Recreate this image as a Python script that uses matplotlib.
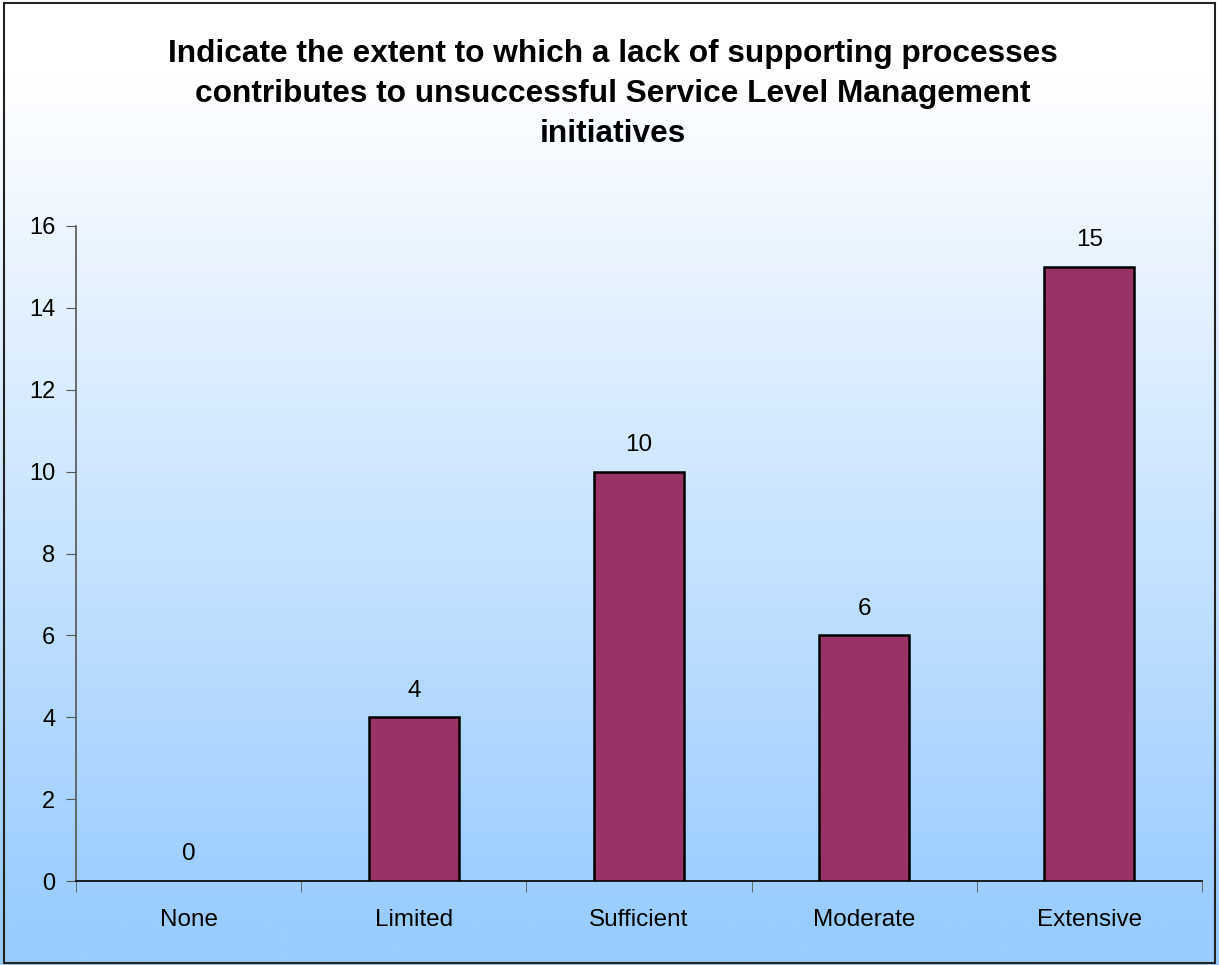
import matplotlib
matplotlib.use("Agg")
import matplotlib.pyplot as plt
import numpy as np
from matplotlib.patches import Rectangle

plt.rcParams['font.family'] = ['Liberation Sans', 'DejaVu Sans']

categories = ["None", "Limited", "Sufficient", "Moderate", "Extensive"]
values = [0, 4, 10, 6, 15]
title = "Indicate the extent to which a lack of supporting processes\ncontributes to unsuccessful Service Level Management\ninitiatives"

fig = plt.figure(figsize=(12.19, 9.65), dpi=100)

# gradient background
bg = fig.add_axes([0, 0, 1, 1], zorder=-10)
top = np.array([1.0, 1.0, 1.0])
bot = np.array([0x99, 0xCC, 0xFF]) / 255.0
t = np.linspace(0, 1, 512)
t = np.clip((t - 0.08) / 0.88, 0, 1)[:, None]
grad = (1 - t) * top + t * bot
bg.imshow(grad[:, None, :].repeat(2, axis=1), aspect='auto', extent=[0, 1, 0, 1], origin='upper')
bg.set_xlim(0, 1); bg.set_ylim(0, 1)
bg.axis('off')
bg.add_patch(Rectangle((0.003, 0.002), 0.994, 0.995, fill=False, edgecolor='#222222', lw=1.5, transform=bg.transAxes))

ax = fig.add_axes([76/1219, 84/965, (1202-76)/1219, (881-226)/965])
ax.patch.set_alpha(0)
x = np.arange(len(categories))
edges = ['black' if v > 0 else 'none' for v in values]
ax.bar(x, values, width=0.4, color='#993366', edgecolor=edges, linewidth=1.8, zorder=3)
for xi, v in zip(x, values):
    ax.text(xi, v + 0.38, str(v), ha='center', va='bottom', fontsize=17.5)

ax.set_xlim(-0.5, len(categories) - 0.5)
ax.set_ylim(0, 16)
ax.set_yticks(range(0, 17, 2))
ax.tick_params(axis='y', labelsize=17, direction='out', length=7, color='#555555', pad=8)
ax.set_xticks(x)
ax.set_xticklabels(categories, fontsize=17.5)
ax.tick_params(axis='x', length=0, pad=20)
ax.set_xticks(np.arange(-0.5, len(categories)), minor=True)
ax.tick_params(axis='x', which='minor', length=8, direction='out', color='#555555')
for s in ['top', 'right']:
    ax.spines[s].set_visible(False)
ax.spines['left'].set_color('#555555')
ax.spines['left'].set_linewidth(1.2)
ax.spines['bottom'].set_color('black')
ax.spines['bottom'].set_linewidth(1.2)

fig.text(0.503, 1 - 94/965, title, ha='center', va='center', fontsize=22.8, fontweight='bold', linespacing=1.42)

fig.savefig('out.png', dpi=100)
